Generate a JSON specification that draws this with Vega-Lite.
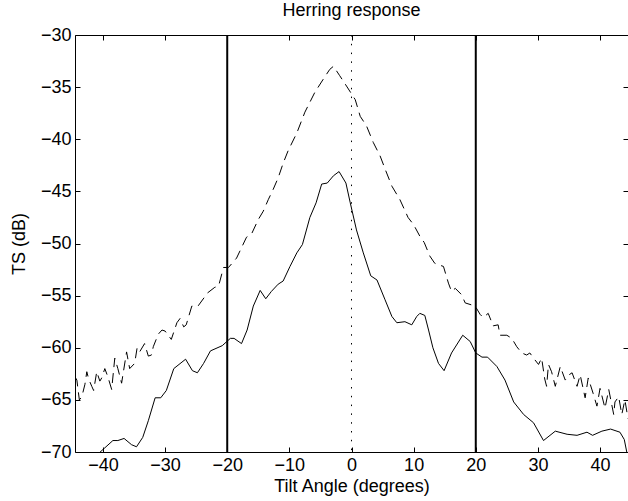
{
  "$schema": "https://vega.github.io/schema/vega-lite/v6.json",
  "width": 553,
  "height": 417,
  "autosize": {"type": "none"},
  "padding": {"left": 75, "top": 35, "right": 0, "bottom": 49},
  "background": "white",
  "title": {"text": "Herring response", "fontSize": 18, "fontWeight": "normal", "font": "Liberation Sans", "color": "black", "offset": 6},
  "config": {
    "view": {"stroke": "black", "strokeWidth": 1},
    "axis": {
      "labelFont": "Liberation Sans",
      "labelFontSize": 18,
      "labelColor": "black",
      "titleFont": "Liberation Sans",
      "titleFontSize": 18,
      "titleFontWeight": "normal",
      "titleColor": "black",
      "domainColor": "black",
      "tickColor": "black",
      "tickSize": -5,
      "grid": false
    }
  },
  "datasets": {
    "dashed": [
      {"angle": -44.5, "ts": -62.8}, {"angle": -44.2, "ts": -63.1}, {"angle": -43.8, "ts": -65.0}, {"angle": -43.4, "ts": -64.7},
      {"angle": -42.9, "ts": -63.5}, {"angle": -42.6, "ts": -62.3}, {"angle": -42.3, "ts": -63.0}, {"angle": -41.8, "ts": -63.7},
      {"angle": -41.5, "ts": -64.1}, {"angle": -41.0, "ts": -62.3}, {"angle": -40.5, "ts": -63.2}, {"angle": -40.2, "ts": -62.9},
      {"angle": -39.7, "ts": -62.0}, {"angle": -39.2, "ts": -62.8}, {"angle": -38.6, "ts": -64.0}, {"angle": -38.1, "ts": -61.0},
      {"angle": -37.6, "ts": -62.0}, {"angle": -37.0, "ts": -63.4}, {"angle": -36.2, "ts": -60.4}, {"angle": -35.7, "ts": -62.0},
      {"angle": -34.9, "ts": -61.5}, {"angle": -34.5, "ts": -60.0}, {"angle": -34.1, "ts": -60.4}, {"angle": -33.3, "ts": -59.6},
      {"angle": -32.7, "ts": -60.8}, {"angle": -32.2, "ts": -60.7}, {"angle": -31.9, "ts": -59.9}, {"angle": -31.1, "ts": -58.7},
      {"angle": -30.5, "ts": -58.3}, {"angle": -30.0, "ts": -58.4}, {"angle": -29.0, "ts": -59.2}, {"angle": -28.1, "ts": -57.6},
      {"angle": -27.6, "ts": -57.2}, {"angle": -27.0, "ts": -58.0}, {"angle": -26.6, "ts": -57.8}, {"angle": -25.7, "ts": -56.0},
      {"angle": -24.7, "ts": -56.0}, {"angle": -23.6, "ts": -55.1}, {"angle": -23.3, "ts": -54.8}, {"angle": -22.0, "ts": -54.2},
      {"angle": -21.4, "ts": -54.1}, {"angle": -20.6, "ts": -52.3}, {"angle": -19.8, "ts": -52.3}, {"angle": -18.5, "ts": -51.4},
      {"angle": -17.7, "ts": -50.4}, {"angle": -16.9, "ts": -49.4}, {"angle": -16.1, "ts": -49.1}, {"angle": -15.0, "ts": -47.7},
      {"angle": -14.2, "ts": -46.9}, {"angle": -13.4, "ts": -45.8}, {"angle": -12.6, "ts": -44.8}, {"angle": -11.8, "ts": -43.7},
      {"angle": -11.0, "ts": -42.3}, {"angle": -10.2, "ts": -41.1}, {"angle": -8.8, "ts": -39.4}, {"angle": -7.5, "ts": -37.4},
      {"angle": -5.9, "ts": -35.5}, {"angle": -4.5, "ts": -34.2}, {"angle": -3.5, "ts": -33.3}, {"angle": -2.9, "ts": -33.0},
      {"angle": -1.9, "ts": -33.9}, {"angle": -0.8, "ts": -34.9}, {"angle": 0.6, "ts": -36.2}, {"angle": 1.4, "ts": -37.8},
      {"angle": 2.4, "ts": -38.7}, {"angle": 3.5, "ts": -40.3}, {"angle": 4.6, "ts": -41.6}, {"angle": 5.5, "ts": -43.0},
      {"angle": 6.5, "ts": -44.5}, {"angle": 7.8, "ts": -45.8}, {"angle": 9.1, "ts": -47.5}, {"angle": 10.0, "ts": -48.2},
      {"angle": 11.0, "ts": -49.3}, {"angle": 11.7, "ts": -49.9}, {"angle": 12.6, "ts": -51.2}, {"angle": 13.4, "ts": -51.9},
      {"angle": 14.3, "ts": -52.1}, {"angle": 14.8, "ts": -52.2}, {"angle": 15.6, "ts": -53.8}, {"angle": 16.1, "ts": -54.6},
      {"angle": 16.7, "ts": -54.3}, {"angle": 17.7, "ts": -54.9}, {"angle": 18.3, "ts": -55.7}, {"angle": 19.9, "ts": -56.0},
      {"angle": 20.7, "ts": -56.8}, {"angle": 21.2, "ts": -57.1}, {"angle": 22.0, "ts": -56.7}, {"angle": 22.8, "ts": -57.9},
      {"angle": 23.6, "ts": -57.8}, {"angle": 23.9, "ts": -58.8}, {"angle": 25.0, "ts": -58.8}, {"angle": 25.8, "ts": -59.1},
      {"angle": 26.6, "ts": -59.9}, {"angle": 27.4, "ts": -60.5}, {"angle": 28.2, "ts": -60.7}, {"angle": 28.7, "ts": -60.5},
      {"angle": 29.3, "ts": -61.0}, {"angle": 30.1, "ts": -61.6}, {"angle": 30.6, "ts": -61.0}, {"angle": 31.1, "ts": -63.0},
      {"angle": 31.4, "ts": -63.7}, {"angle": 31.7, "ts": -61.6}, {"angle": 32.2, "ts": -62.3}, {"angle": 32.8, "ts": -63.7},
      {"angle": 33.6, "ts": -61.8}, {"angle": 34.4, "ts": -63.1}, {"angle": 35.0, "ts": -62.6}, {"angle": 35.5, "ts": -62.4},
      {"angle": 36.3, "ts": -63.7}, {"angle": 36.8, "ts": -62.6}, {"angle": 37.6, "ts": -64.8}, {"angle": 38.1, "ts": -62.9},
      {"angle": 38.9, "ts": -64.4}, {"angle": 39.5, "ts": -65.6}, {"angle": 40.0, "ts": -63.9}, {"angle": 40.8, "ts": -65.8},
      {"angle": 41.4, "ts": -64.0}, {"angle": 42.2, "ts": -66.4}, {"angle": 42.4, "ts": -65.2}, {"angle": 43.0, "ts": -64.7},
      {"angle": 43.5, "ts": -66.4}, {"angle": 44.0, "ts": -65.0}, {"angle": 44.5, "ts": -66.8}
    ],
    "solid": [
      {"angle": -44.5, "ts": -72.0}, {"angle": -41.0, "ts": -70.3}, {"angle": -39.7, "ts": -69.6}, {"angle": -38.4, "ts": -68.9},
      {"angle": -37.6, "ts": -68.9}, {"angle": -36.6, "ts": -68.7}, {"angle": -35.4, "ts": -69.3}, {"angle": -34.6, "ts": -69.5},
      {"angle": -33.6, "ts": -68.6}, {"angle": -32.7, "ts": -67.0}, {"angle": -31.6, "ts": -64.8}, {"angle": -30.7, "ts": -64.8},
      {"angle": -29.8, "ts": -64.1}, {"angle": -28.6, "ts": -62.0}, {"angle": -26.7, "ts": -61.1}, {"angle": -25.6, "ts": -62.2},
      {"angle": -24.8, "ts": -62.4}, {"angle": -23.8, "ts": -61.5}, {"angle": -22.7, "ts": -60.3}, {"angle": -20.8, "ts": -59.8},
      {"angle": -19.5, "ts": -59.1}, {"angle": -18.9, "ts": -59.1}, {"angle": -17.7, "ts": -59.6}, {"angle": -16.8, "ts": -58.3},
      {"angle": -15.8, "ts": -56.0}, {"angle": -14.7, "ts": -54.5}, {"angle": -13.8, "ts": -55.3}, {"angle": -12.9, "ts": -54.6},
      {"angle": -11.8, "ts": -53.9}, {"angle": -11.0, "ts": -53.6}, {"angle": -9.9, "ts": -52.2}, {"angle": -8.8, "ts": -50.9},
      {"angle": -7.9, "ts": -50.1}, {"angle": -7.3, "ts": -48.8}, {"angle": -6.7, "ts": -47.5}, {"angle": -5.7, "ts": -46.1},
      {"angle": -4.8, "ts": -44.3}, {"angle": -3.9, "ts": -44.2}, {"angle": -2.9, "ts": -43.5}, {"angle": -2.0, "ts": -43.1},
      {"angle": -0.9, "ts": -44.2}, {"angle": -0.2, "ts": -46.1}, {"angle": 0.8, "ts": -48.7}, {"angle": 1.9, "ts": -50.9},
      {"angle": 3.1, "ts": -53.1}, {"angle": 4.1, "ts": -53.5}, {"angle": 5.4, "ts": -55.4}, {"angle": 6.5, "ts": -57.0},
      {"angle": 7.3, "ts": -57.6}, {"angle": 8.6, "ts": -57.5}, {"angle": 9.7, "ts": -57.8}, {"angle": 10.5, "ts": -57.0},
      {"angle": 11.0, "ts": -56.7}, {"angle": 11.8, "ts": -56.9}, {"angle": 12.4, "ts": -58.3}, {"angle": 13.1, "ts": -60.0},
      {"angle": 14.0, "ts": -61.5}, {"angle": 14.9, "ts": -62.2}, {"angle": 16.1, "ts": -60.5}, {"angle": 17.9, "ts": -58.8},
      {"angle": 19.1, "ts": -59.4}, {"angle": 20.0, "ts": -60.5}, {"angle": 21.0, "ts": -60.9}, {"angle": 21.9, "ts": -60.9},
      {"angle": 23.4, "ts": -61.8}, {"angle": 24.7, "ts": -63.1}, {"angle": 26.1, "ts": -65.2}, {"angle": 27.7, "ts": -66.4},
      {"angle": 29.3, "ts": -67.2}, {"angle": 30.9, "ts": -68.9}, {"angle": 32.8, "ts": -68.0}, {"angle": 34.7, "ts": -68.3},
      {"angle": 36.3, "ts": -68.4}, {"angle": 37.9, "ts": -68.1}, {"angle": 38.8, "ts": -68.4}, {"angle": 40.3, "ts": -68.0},
      {"angle": 41.7, "ts": -67.8}, {"angle": 43.2, "ts": -68.1}, {"angle": 43.9, "ts": -68.8}, {"angle": 44.3, "ts": -70.0},
      {"angle": 44.5, "ts": -71.0}
    ],
    "bounds": [{"angle": -20}, {"angle": 20}],
    "center": [{"angle": 0}]
  },
  "resolve": {"axis": {"x": "independent", "y": "independent"}},
  "layer": [
    {
      "data": {"name": "dashed"},
      "mark": {"type": "line", "color": "black", "strokeWidth": 1, "strokeDash": [10, 6], "clip": true},
      "encoding": {
        "x": {"field": "angle", "type": "quantitative", "scale": {"domain": [-44.5, 44.5], "nice": false, "zero": false},
              "axis": {"orient": "bottom", "values": [-40, -30, -20, -10, 0, 10, 20, 30, 40], "title": "Tilt Angle (degrees)", "labelPadding": 9, "titlePadding": 3, "domain": false}},
        "y": {"field": "ts", "type": "quantitative", "scale": {"domain": [-70, -30], "nice": false, "zero": false},
              "axis": {"orient": "left", "values": [-70, -65, -60, -55, -50, -45, -40, -35, -30], "title": "TS (dB)", "labelPadding": 9, "titlePadding": 12, "domain": false}}
      }
    },
    {
      "data": {"name": "solid"},
      "mark": {"type": "line", "color": "black", "strokeWidth": 1, "clip": true},
      "encoding": {
        "x": {"field": "angle", "type": "quantitative",
              "axis": {"orient": "top", "values": [-40, -30, -20, -10, 0, 10, 20, 30, 40], "labels": false, "title": null, "domain": false}},
        "y": {"field": "ts", "type": "quantitative",
              "axis": {"orient": "right", "values": [-70, -65, -60, -55, -50, -45, -40, -35, -30], "labels": false, "title": null, "domain": false}}
      }
    },
    {
      "data": {"name": "bounds"},
      "mark": {"type": "rule", "color": "black", "strokeWidth": 2},
      "encoding": {"x": {"field": "angle", "type": "quantitative", "axis": null}}
    },
    {
      "data": {"name": "center"},
      "mark": {"type": "rule", "color": "black", "strokeWidth": 1, "strokeDash": [1.5, 7.3]},
      "encoding": {"x": {"field": "angle", "type": "quantitative", "axis": null}}
    }
  ]
}
